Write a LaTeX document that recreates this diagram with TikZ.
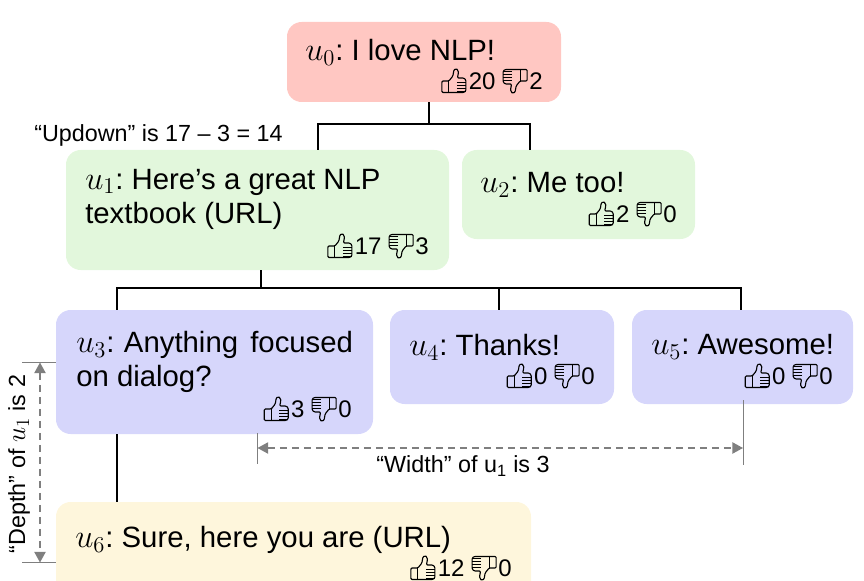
\documentclass[tikz,border=0pt]{standalone}
\usepackage{fontspec}
\setmainfont{Liberation Sans}
\usetikzlibrary{arrows.meta}
\definecolor{postred}{HTML}{FFC7C2}
\definecolor{postgreen}{HTML}{E2F7DC}
\definecolor{postblue}{HTML}{D6D6FB}
\definecolor{postyellow}{HTML}{FEF6DC}
\definecolor{dimgray}{HTML}{7F7F7F}
\newcommand{\uid}[1]{\scalebox{1.18}{$u_{#1}$}}
\tikzset{
  post/.style={rectangle, rounded corners=11pt, inner sep=0pt},
  posttext/.style={anchor=west, align=left, inner sep=0pt, font=\fontsize{22}{25.5}\selectfont},
  votetext/.style={anchor=east, inner sep=0pt, font=\fontsize{18}{22}\selectfont},
  note/.style={inner sep=0pt, font=\fontsize{17.5}{20}\selectfont},
  tree/.style={draw=black, line width=1.1pt},
  dimline/.style={draw=dimgray, line width=0.6pt},
  dimarrow/.style={draw=dimgray, line width=1pt, dash pattern=on 5.5pt off 3.5pt, {Triangle[length=8pt,width=8.5pt]}-{Triangle[length=8pt,width=8.5pt]}},
  thumb/.pic={
    \draw[line width=0.85pt, line join=round, rounded corners=0.8pt] (-12,11.5) -- (-12,0) -- (-5,0) -- (-1,-5)
      -- (0,-11) .. controls (2,-12.5) and (4.5,-12) .. (4.5,-8) -- (3.5,-3) -- (10,-3) -- (12,-1) -- (12,10) -- (10,11.5) -- cycle;
    \draw[line width=0.85pt] (-5,0) -- (-5,11.5);
    \foreach \stripe in {1,4,7,10} {
      \draw[line width=0.4pt] (3,\stripe) -- (12,\stripe);
    }
  },
}
\begin{document}
\begin{tikzpicture}[x=0.75pt, y=-0.75pt]
  \useasboundingbox (0,0) rectangle (864,581);
  \clip (0,0) rectangle (864,581);
  % posts
  \node[post, fill=postred, minimum width=205.5pt, minimum height=60pt] (u0) at (424,62) {};
  \node[post, fill=postgreen, minimum width=287.25pt, minimum height=90pt] (u1) at (257.5,210) {};
  \node[post, fill=postgreen, minimum width=174.75pt, minimum height=66.75pt] (u2) at (578.5,194.5) {};
  \node[post, fill=postblue, minimum width=237.75pt, minimum height=93pt] (u3) at (214.5,372) {};
  \node[post, fill=postblue, minimum width=168pt, minimum height=70.5pt] (u4) at (502,357) {};
  \node[post, fill=postblue, minimum width=165.75pt, minimum height=70.5pt] (u5) at (742.5,357) {};
  \node[post, fill=postyellow, minimum width=356.25pt, minimum height=90pt] (u6) at (293.5,562) {};
  % texts
  \node[posttext] (u0text) at (305,52) {\uid{0}:\kern-2pt{} I love NLP!};
  \node[posttext] (u1text) at (85,199) {\uid{1}:\kern-2pt{} Here’s a great NLP\\textbook (URL)};
  \node[posttext] (u2text) at (480,185) {\uid{2}:\kern-2pt{} Me too!};
  \node[posttext] (u3text) at (76,362) {\uid{3}:\kern-1pt{} Anything\hspace{3pt} focused\\on dialog?};
  \node[posttext] (u4text) at (409,347) {\uid{4}:\kern-2pt{} Thanks!};
  \node[posttext] (u5text) at (651,347) {\uid{5}:\kern-2pt{} Awesome!};
  \node[posttext] (u6text) at (75,540) {\uid{6}:\kern-2pt{} Sure, here you are (URL)};
  % votes
  \foreach \post/\x/\y/\up/\down in {u0/543/81/20/2, u1/429/246/17/3, u2/677/214/2/0, u3/352/409/3/0, u4/595/376/0/0, u5/833/376/0/0, u6/512/568/12/0} {
    \node[votetext] (\post down) at (\x,\y) {\down};
    \pic[rotate=180] at ([xshift=-10.5pt]\post down.west) {thumb};
    \node[votetext] (\post up) at ([xshift=-25pt]\post down.west) {\up};
    \pic at ([xshift=-11pt]\post up.west) {thumb};
  }
  % tree
  \coordinate (fork0) at (429,124);
  \coordinate (fork0l) at (318,124);
  \coordinate (fork0r) at (530,124);
  \coordinate (fork1) at (261,288);
  \coordinate (fork1l) at (117,288);
  \coordinate (fork1m) at (499,288);
  \coordinate (fork1r) at (741,288);
  \draw[tree] (u0.south -| fork0) -- (fork0);
  \draw[tree] (u1.north -| fork0l) -- (fork0l) -- (fork0r) -- (u2.north -| fork0r);
  \draw[tree] (u1.south -| fork1) -- (fork1);
  \draw[tree] (u3.north -| fork1l) -- (fork1l) -- (fork1r) -- (u5.north -| fork1r);
  \draw[tree] (fork1m) -- (u4.north -| fork1m);
  \draw[tree] (u3.south -| fork1l) -- (u6.north -| fork1l);
  % updown
  \node[note] (updown) at (158.5,135) {“Updown” is 17 – 3 = 14};
  % depth
  \coordinate (deptha) at (22,362.5);
  \coordinate (depthb) at (22,562.5);
  \coordinate (deptharrow) at (40,0);
  \draw[dimline] (deptha) -- (deptha -| u3.west);
  \draw[dimline] (depthb) -- (depthb -| u3.west);
  \draw[dimarrow] (deptha -| deptharrow) -- (depthb -| deptharrow);
  \node[note, rotate=90] (depth) at (19,464) {“Depth” of \uid{1} is 2};
  % width
  \coordinate (widtha) at (257.5,433);
  \coordinate (widthb) at (743,400);
  \coordinate (widthy) at (0,448);
  \draw[dimline] (widtha) -- (257.5,464);
  \draw[dimline] (widthb) -- (743,465);
  \draw[dimarrow] (widtha |- widthy) -- (widthb |- widthy);
  \node[note] (width) at (463,466) {“Width” of u\textsubscript{1} is 3};
\end{tikzpicture}
\end{document}
